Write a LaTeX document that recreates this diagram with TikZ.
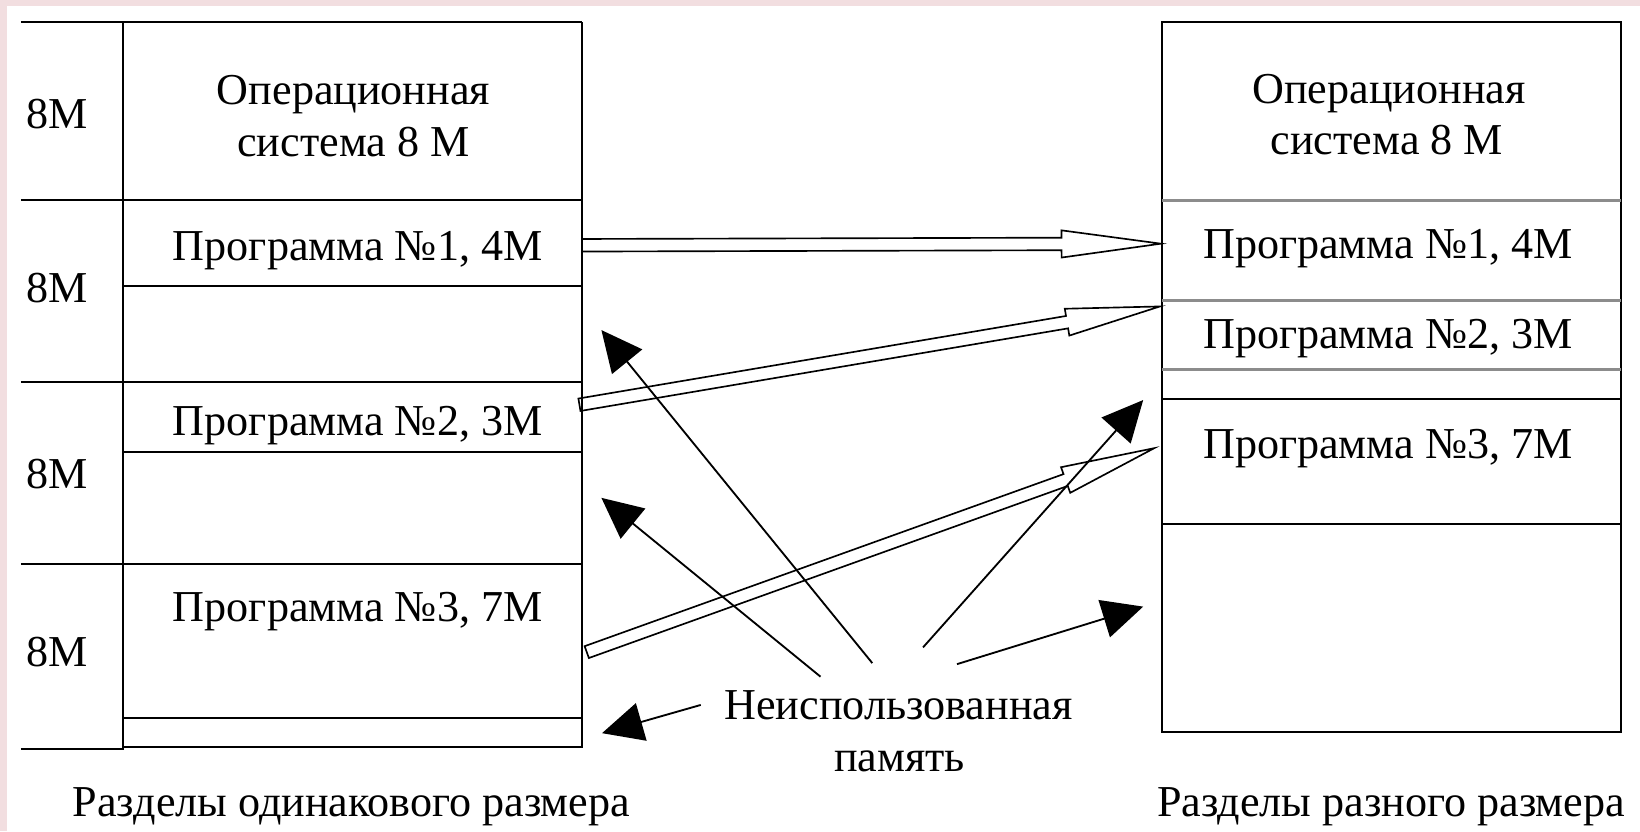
\documentclass[tikz,border=0pt]{standalone}
\usepackage{fontspec}
\setmainfont{Liberation Serif}
\usetikzlibrary{arrows.meta,calc}
\definecolor{pinkbg}{RGB}{242,222,224}
% hollow arrow: #1 head length, #2 tail coordinate, #3 tip coordinate
\newcommand{\hollowarr}[3][0.9cm]{%
  \coordinate (hb) at ($(#3)!#1!(#2)$);
  \draw[hollowarrow] ($(#2)!0.06cm!90:(#3)$) -- ($(hb)!0.06cm!90:(#3)$)
    -- ($(hb)!0.13cm!90:(#3)$) -- (#3) -- ($(hb)!0.13cm!-90:(#3)$)
    -- ($(hb)!0.06cm!-90:(#3)$) -- ($(#2)!0.06cm!-90:(#3)$) -- cycle;
}
\begin{document}
\begin{tikzpicture}[x=0.01cm,y=-0.01cm,
  box/.style={line width=0.55pt,draw=black},
  gline/.style={line width=0.8pt,draw=black!45},
  txt/.style={inner sep=0pt,anchor=base,font=\fontsize{12}{14}\selectfont},
  hollowarrow/.style={draw=black,line width=0.45pt,line join=miter},
  ptr/.style={draw=black,line width=0.5pt,-{Triangle[length=3.9mm,width=3.7mm]}}]
\useasboundingbox (0,0) rectangle (1568,795);
\fill[pinkbg] (0,0) rectangle (1568,795);
\fill[white] (7,6) rectangle (1568,795);

% ---------- left memory (equal partitions) ----------
\draw[box] (20,20.7) -- (556.5,20.7);
\draw[box] (20,191.2) -- (556.5,191.2);
\draw[box] (20,365.5) -- (556.5,365.5);
\draw[box] (20,539.2) -- (556.5,539.2);
\draw[box] (20,716) -- (117.6,716) -- (117.6,20.7);
\draw[box] (117.6,713.9) -- (556.5,713.9) -- (556.5,20.7);
\draw[box] (117.6,273.1) -- (556.5,273.1);
\draw[box] (117.6,432.5) -- (556.5,432.5);
\draw[box] (117.6,686.8) -- (556.5,686.8);

\node[txt] (s1) at (55,122.5) {8M};
\node[txt] (s2) at (55,289.7) {8M};
\node[txt] (s3) at (55,466.6) {8M};
\node[txt] (s4) at (55,637.7) {8M};
\node[txt] (osL1) at (338,100.4) {Операционная};
\node[txt] (osL2) at (338,149.8) {система 8 М};
\node[txt] (p1L) at (342,249) {Программа №1, 4М};
\node[txt] (p2L) at (342,416) {Программа №2, 3М};
\node[txt] (p3L) at (342,594.4) {Программа №3, 7М};
\node[txt] (capL) at (336,781) {Разделы одинакового размера};

% ---------- right memory (different partitions) ----------
\draw[box] (1110.7,20.7) rectangle (1550,699.6);
\draw[gline] (1110.7,192) -- (1550,192);
\draw[gline] (1110.7,287) -- (1550,287);
\draw[gline] (1110.7,353) -- (1550,353);
\draw[box] (1110.7,381.5) -- (1550,381.5);
\draw[box] (1110.7,501) -- (1550,501);

\node[txt] (osR1) at (1328,98.8) {Операционная};
\node[txt] (osR2) at (1326,148.2) {система 8 М};
\node[txt] (p1R) at (1327,247) {Программа №1, 4М};
\node[txt] (p2R) at (1327,333) {Программа №2, 3М};
\node[txt] (p3R) at (1327,438.2) {Программа №3, 7М};
\node[txt] (capR) at (1330,781) {Разделы разного размера};

% ---------- unused memory label ----------
\node[txt] (un1) at (859,688.4) {Неиспользованная};
\node[txt] (un2) at (860,737.8) {память};

% ---------- hollow move arrows ----------
\coordinate (m1a) at (556.5,234.5);
\coordinate (m1b) at (1110,233);
\coordinate (m2a) at (554,387);
\coordinate (m2b) at (1109,293);
\coordinate (m3a) at (561,623.5);
\coordinate (m3b) at (1103.6,428.5);
\hollowarr[0.95cm]{m1a}{m1b}
\hollowarr{m2a}{m2b}
\hollowarr{m3a}{m3b}

% ---------- unused-memory pointers ----------
\coordinate (u1) at (834,634);
\coordinate (u2) at (784.5,647);
\coordinate (u3) at (882.5,619);
\coordinate (u4) at (915,635);
\coordinate (u5) at (670,674);
\coordinate (t1) at (575,315.6);
\coordinate (t2) at (575,476);
\coordinate (t3) at (1093,382.5);
\coordinate (t4) at (1093,580);
\coordinate (t5) at (575.6,701);
\draw[ptr] (u1) -- (t1);
\draw[ptr] (u2) -- (t2);
\draw[ptr] (u3) -- (t3);
\draw[ptr] (u4) -- (t4);
\draw[ptr] (u5) -- (t5);
\end{tikzpicture}
\end{document}
